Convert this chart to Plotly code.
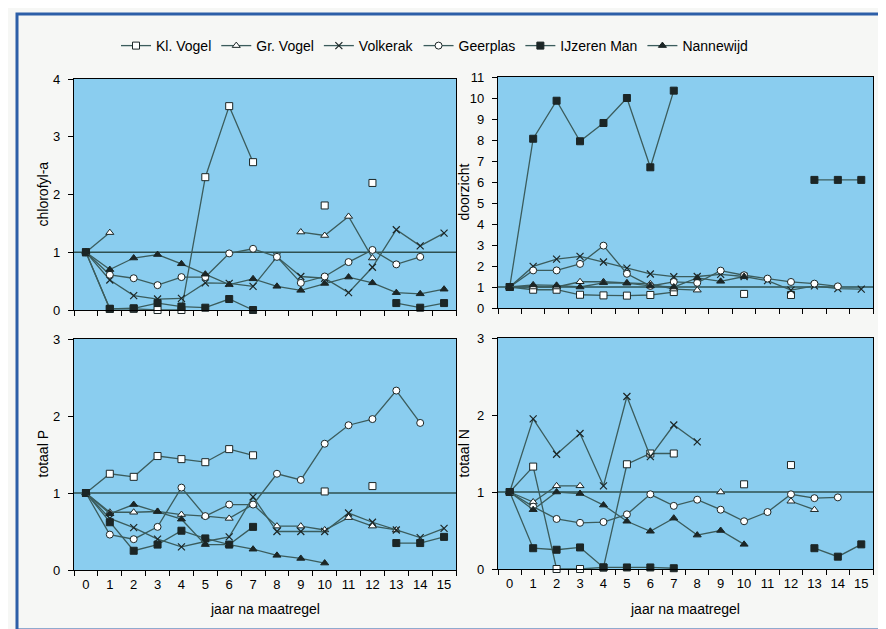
import plotly.graph_objects as go
from plotly.subplots import make_subplots

# ---------------- data ----------------
years = [str(i) for i in range(16)]
series_names = ["Kl. Vogel", "Gr. Vogel", "Volkerak", "Geerplas", "IJzeren Man", "Nannewijd"]

# chlorofyl-a
kl_chl = [1, 0.02, 0.02, 0.0, 0.0, 2.3, 3.53, 2.56, None, None, 1.81, None, 2.2, None, None, None]
gr_chl = [1, 1.34, None, None, None, None, None, None, None, 1.35, 1.29, 1.62, 0.9, None, None, None]
vk_chl = [1, 0.52, 0.25, 0.19, 0.2, 0.47, 0.46, 0.41, 0.92, 0.58, 0.55, 0.3, 0.74, 1.39, 1.11, 1.33]
ge_chl = [1, 0.61, 0.55, 0.43, 0.57, 0.57, 0.98, 1.06, 0.92, 0.47, 0.58, 0.83, 1.04, 0.79, 0.92, None]
ij_chl = [1, 0.02, 0.03, 0.12, 0.06, 0.04, 0.19, 0.0, None, None, None, None, None, 0.12, 0.04, 0.12]
na_chl = [1, 0.7, 0.9, 0.96, 0.8, 0.62, 0.44, 0.54, 0.41, 0.34, 0.46, 0.57, 0.47, 0.3, 0.28, 0.36]

# doorzicht
kl_dz = [1, 0.87, 0.87, 0.63, 0.6, 0.59, 0.62, 0.76, None, None, 0.67, None, 0.62, None, None, None]
gr_dz = [1, 1.0, 1.0, 1.25, 1.25, 1.2, 1.15, 0.9, 0.85, None, None, None, None, None, None, None]
vk_dz = [1, 1.98, 2.33, 2.46, 2.19, 1.9, 1.62, 1.49, 1.5, 1.6, 1.5, 1.3, 0.85, 1.05, 0.92, 0.9]
ge_dz = [1, 1.79, 1.79, 2.1, 2.97, 1.63, 1.05, 1.24, 1.2, 1.78, 1.56, 1.4, 1.24, 1.16, 1.03, None]
ij_dz = [1, 8.06, 9.87, 7.94, 8.81, 10.0, 6.7, 10.35, None, None, None, None, None, 6.1, 6.1, 6.1]
na_dz = [1, 1.1, 1.08, 1.0, 1.2, 1.18, 1.05, 1.0, 1.43, 1.27, 1.5, None, None, None, None, None]

# totaal P
kl_p = [1, 1.25, 1.21, 1.48, 1.44, 1.4, 1.57, 1.49, None, None, 1.02, None, 1.09, None, None, None]
gr_p = [1, 0.75, 0.75, 0.76, 0.72, 0.7, 0.67, 0.85, 0.57, 0.57, 0.52, 0.68, 0.57, 0.52, None, None]
vk_p = [1, 0.67, 0.55, 0.4, 0.3, 0.37, 0.43, 0.95, 0.5, 0.5, 0.5, 0.74, 0.62, 0.52, 0.42, 0.54]
ge_p = [1, 0.46, 0.4, 0.56, 1.07, 0.7, 0.85, 0.85, 1.25, 1.17, 1.64, 1.88, 1.96, 2.33, 1.91, None]
ij_p = [1, 0.62, 0.25, 0.33, 0.51, 0.41, 0.33, 0.56, None, None, None, None, None, 0.35, 0.35, 0.43]
na_p = [1, 0.73, 0.85, 0.76, 0.66, 0.33, 0.33, 0.27, 0.19, 0.15, 0.09, None, None, None, None, None]

# totaal N
kl_n = [1, 1.33, 0.0, 0.0, 0.02, 1.36, 1.5, 1.5, None, None, 1.1, None, 1.35, None, None, None]
gr_n = [1, 0.87, 1.08, 1.08, None, None, None, None, None, 1.0, None, None, 0.88, 0.77, None, None]
vk_n = [1, 1.95, 1.49, 1.76, 1.08, 2.24, 1.46, 1.87, 1.65, None, None, None, None, None, None, None]
ge_n = [1, 0.81, 0.65, 0.6, 0.61, 0.71, 0.97, 0.82, 0.9, 0.77, 0.62, 0.74, 0.97, 0.92, 0.93, None]
ij_n = [1, 0.27, 0.25, 0.28, 0.02, 0.02, 0.02, 0.01, None, None, None, None, None, 0.27, 0.16, 0.32]
na_n = [1, 0.77, 1.0, 0.98, 0.83, 0.62, 0.49, 0.66, 0.44, 0.5, 0.32, None, None, None, None, None]

panels = [
    ("chlorofyl-a", [kl_chl, gr_chl, vk_chl, ge_chl, ij_chl, na_chl], 1, 1, 4),
    ("doorzicht", [kl_dz, gr_dz, vk_dz, ge_dz, ij_dz, na_dz], 1, 2, 11),
    ("totaal P", [kl_p, gr_p, vk_p, ge_p, ij_p, na_p], 2, 1, 3),
    ("totaal N", [kl_n, gr_n, vk_n, ge_n, ij_n, na_n], 2, 2, 3),
]
x_title = "jaar na maatregel"

# ---------------- styling ----------------
W, H = 886, 629
FONT = "Liberation Sans Narrow, Arial Narrow, Liberation Sans, Arial, sans-serif"
LINE = "#3b5c5c"
DARK = "#1c2626"
PANEL_BG = "#8ACDEF"

markers = [
    dict(symbol="square", color="white", size=7, line=dict(color=DARK, width=1)),
    dict(symbol="triangle-up", color="white", size=7, line=dict(color=DARK, width=1)),
    dict(symbol="x-thin", color=DARK, size=7, line=dict(color=DARK, width=1.2)),
    dict(symbol="circle", color="white", size=7, line=dict(color=DARK, width=1)),
    dict(symbol="square", color=DARK, size=7, line=dict(color=DARK, width=1)),
    dict(symbol="triangle-up", color=DARK, size=7, line=dict(color=DARK, width=1)),
]

fig = make_subplots(rows=2, cols=2)

for title, data, r, c, ymax in panels:
    first = (r == 1 and c == 1)
    for name, vals, mk in zip(series_names, data, markers):
        fig.add_trace(go.Scatter(
            x=years, y=vals, name=name, mode="lines+markers",
            line=dict(color=LINE, width=1.3), marker=mk,
            showlegend=first, connectgaps=False, cliponaxis=False,
        ), row=r, col=c)

def xd(a, b):
    return [a / W, b / W]

def yd(top, bottom):
    return [1 - bottom / H, 1 - top / H]

dom = {
    (1, 1): (xd(66, 448), yd(71, 302)),
    (1, 2): (xd(490, 865), yd(69, 300)),
    (2, 1): (xd(66, 448), yd(331, 562)),
    (2, 2): (xd(490, 865), yd(330, 561)),
}
ytitle_x = {1: 34, 2: 455}
xtitle_pos = {1: 257, 2: 677}

for title, data, r, c, ymax in panels:
    xdom, ydom = dom[(r, c)]
    fig.update_xaxes(
        domain=xdom, type="category", tickson="boundaries", ticks="outside",
        ticklen=5, tickcolor="black", showline=True, linecolor="black", linewidth=1,
        mirror=True, showgrid=False, zeroline=False, range=[-0.5, 15.5],
        tickangle=0, automargin=False, ticklabelstandoff=2,
        showticklabels=(r == 2), tickfont=dict(size=13, color="black", family=FONT),
        row=r, col=c)
    fig.update_yaxes(
        domain=ydom, range=[0, ymax], dtick=1, tick0=0, ticks="outside", ticklen=5,
        tickcolor="black", showline=True, linecolor="black", linewidth=1.2, mirror=True,
        showgrid=False, zeroline=False, automargin=False, ticklabelstandoff=5,
        tickfont=dict(size=13, color="black", family=FONT),
        row=r, col=c)
    ymid = (ydom[0] + ydom[1]) / 2
    fig.add_annotation(text=title, xref="paper", yref="paper", x=ytitle_x[c] / W, y=ymid,
                       textangle=-90, showarrow=False, xanchor="center", yanchor="middle",
                       font=dict(size=14, color="black", family=FONT))
    if r == 2:
        fig.add_annotation(text=x_title, xref="paper", yref="paper", x=xtitle_pos[c] / W,
                           y=1 - 601 / H, showarrow=False, xanchor="center", yanchor="middle",
                           font=dict(size=14, color="black", family=FONT))

# reference line at 1 in each panel
for i, (title, data, r, c, ymax) in enumerate(panels):
    ax = "" if i == 0 else str(i + 1)
    fig.add_shape(type="line", xref=f"x{ax} domain", yref=f"y{ax}",
                  x0=0, x1=1, y0=1, y1=1, line=dict(color="#2e5050", width=1.3),
                  layer="below")

# frame
fig.add_shape(type="rect", xref="paper", yref="paper",
              x0=9 / W, x1=879 / W, y0=1 - 622 / H, y1=1 - 6 / H,
              line=dict(color="#2d5fa8", width=3), fillcolor="rgba(0,0,0,0)")

fig.update_layout(
    width=W, height=H,
    margin=dict(l=0, r=0, t=0, b=0),
    paper_bgcolor="#f6f7f5",
    plot_bgcolor=PANEL_BG,
    font=dict(family=FONT, size=14, color="black"),
    legend=dict(orientation="h", x=108 / W, y=1 - 38 / H, xanchor="left", yanchor="middle",
                bgcolor="rgba(0,0,0,0)", font=dict(size=14, family=FONT),
                itemwidth=30, tracegroupgap=0),
)

fig.write_html("out.html")
